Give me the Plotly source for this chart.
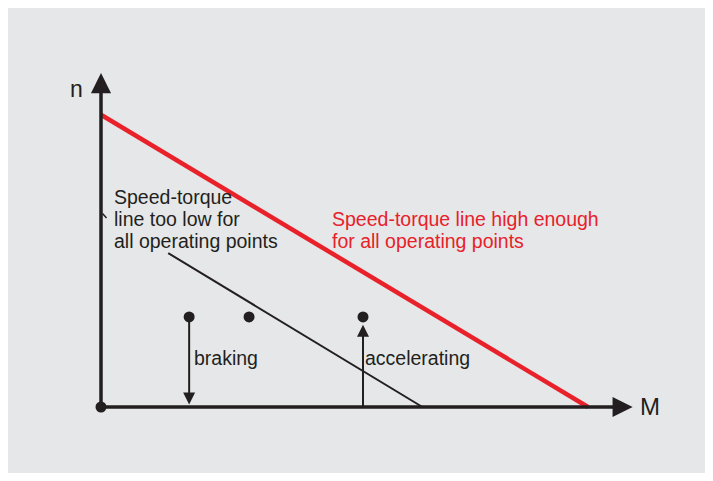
import plotly.graph_objects as go

# ---------------- data (schematic units: M = torque, n = speed) ----------------
high_line_M = [0.0, 10.0]          # speed-torque line high enough
high_line_n = [6.0, 0.0]
low_line_M = [1.38, 6.6]           # speed-torque line too low
low_line_n = [3.16, 0.0]
op_M = [1.81, 3.04, 5.38]          # operating points
op_n = [1.85, 1.85, 1.85]
origin_M = [0.0]
origin_n = [0.0]
M_axis_end = 11.0
n_axis_end = 6.94
braking_idx = 0
accel_idx = 2

axis_labels = ["n", "M"]
low_label_lines = ["Speed-torque", "line too low for", "all operating points"]
high_label_lines = ["Speed-torque line high enough", "for all operating points"]
arrow_labels = ["braking", "accelerating"]

# ---------------- styling / layout ----------------
PAGE_OFFSET = 8              # default body margin of the html page
W, H = 697, 465              # figure size (fits the window with the body margin)
UNIT = 48.7                  # px per schematic unit
ORIGIN_X, ORIGIN_Y = 101, 407  # origin position on the page
OX, OY = ORIGIN_X - PAGE_OFFSET, ORIGIN_Y - PAGE_OFFSET
INK = "#231f20"
RED = "#e8212a"
BG = "#e6e7e8"
FONT = "Liberation Sans, Arial, Helvetica, sans-serif"
FS = 19.5


def px_x(px):
    return (px - ORIGIN_X) / UNIT


def px_y(py):
    return (ORIGIN_Y - py) / UNIT


fig = go.Figure()

fig.add_trace(go.Scatter(x=high_line_M, y=high_line_n, mode="lines",
                         line=dict(color=RED, width=4.5), hoverinfo="skip"))
fig.add_trace(go.Scatter(x=low_line_M, y=low_line_n, mode="lines",
                         line=dict(color=INK, width=2), hoverinfo="skip"))
fig.add_trace(go.Scatter(x=op_M, y=op_n, mode="markers",
                         marker=dict(color=INK, size=11), hoverinfo="skip"))
fig.add_trace(go.Scatter(x=origin_M, y=origin_n, mode="markers",
                         marker=dict(color=INK, size=11), hoverinfo="skip"))


def arrow(x, y, ax, ay, width, size, extra=0.0):
    return dict(x=x, y=y, ax=ax, ay=ay, xref="x", yref="y", axref="x", ayref="y",
                text="", showarrow=True, arrowhead=2, arrowwidth=width,
                arrowsize=size, arrowcolor=INK, standoff=width * size + extra,
                borderpad=0)


annotations = [
    arrow(0, n_axis_end, 0, 0, 3.5, 1.15),
    arrow(M_axis_end, 0, 0, 0, 3.5, 1.15),
    arrow(op_M[braking_idx], 0, op_M[braking_idx], op_n[braking_idx], 2, 1.2),
    arrow(op_M[accel_idx], op_n[accel_idx], op_M[accel_idx], 0, 2, 1.2, extra=5.5),
]


def label(text, x, y, color=INK, size=FS, xanchor="left"):
    return dict(text=text, x=x, y=y, xref="x", yref="y", showarrow=False,
                xanchor=xanchor, yanchor="middle", borderpad=0, borderwidth=0,
                font=dict(family=FONT, size=size, color=color))


annotations.append(label(axis_labels[0], px_x(76.5), px_y(89), size=23, xanchor="center"))
annotations.append(label(axis_labels[1], px_x(649.5), px_y(406), size=24, xanchor="center"))

for i, t in enumerate(low_label_lines):
    annotations.append(label(t, px_x(114), px_y(196.5 + 22 * i)))
for i, t in enumerate(high_label_lines):
    annotations.append(label(t, px_x(332.3), px_y(218.5 + 22.5 * i), color=RED))

annotations.append(label(arrow_labels[0], px_x(193.8), px_y(358.4)))
annotations.append(label(arrow_labels[1], px_x(365.3), px_y(358.4)))

shapes = [
    # small leader tick at the n-axis
    dict(type="line", xref="x", yref="y",
         x0=px_x(102.5), y0=px_y(213.5), x1=px_x(106.5), y1=px_y(218),
         line=dict(color=INK, width=1.5)),
]

fig.update_layout(
    width=W, height=H, autosize=False,
    margin=dict(l=0, r=0, t=0, b=0, pad=0),
    paper_bgcolor=BG, plot_bgcolor="rgba(0,0,0,0)",
    showlegend=False,
    xaxis=dict(range=[-OX / UNIT, (W - OX) / UNIT], visible=False,
               showgrid=False, zeroline=False, fixedrange=True),
    yaxis=dict(range=[-(H - OY) / UNIT, OY / UNIT], visible=False,
               showgrid=False, zeroline=False, fixedrange=True),
    annotations=annotations,
    shapes=shapes,
)

fig.write_html("out.html")
